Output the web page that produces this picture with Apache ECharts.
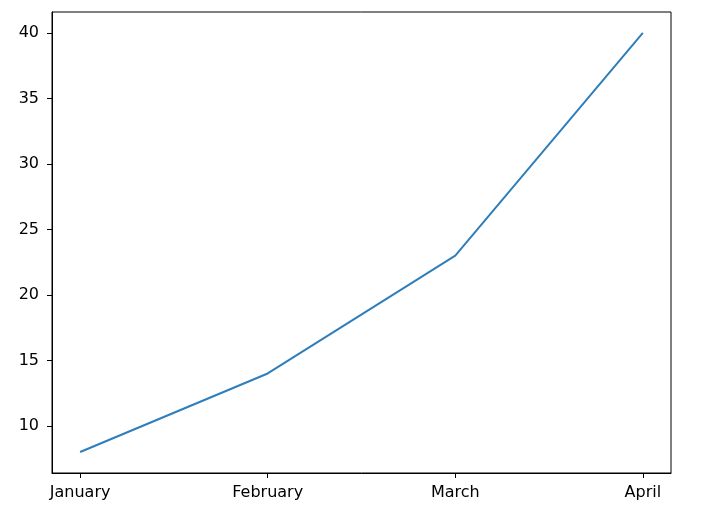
<!DOCTYPE html>
<html>
<head>
<meta charset="utf-8">
<script src="https://cdn.jsdelivr.net/npm/echarts@6/dist/echarts.min.js"></script>
<style>
  html, body { margin: 0; padding: 0; background: #fff; }
  #chart { width: 701px; height: 514px; }
</style>
</head>
<body>
<div id="chart"></div>
<script>
  // data
  var months = ["January", "February", "March", "April"];
  var values = [8, 14, 23, 40];
  var yTicks = [10, 15, 20, 25, 30, 35, 40];

  var points = [];
  for (var i = 0; i < months.length; i++) {
    points.push([i, values[i]]);
  }
  var xTicks = months.map(function (m, i) { return i; });

  var chart = echarts.init(document.getElementById("chart"), null, { renderer: "canvas" });
  var axisLine = { show: true, onZero: false, lineStyle: { color: "#000", width: 1 } };
  var font = { color: "#000", fontSize: 16, fontFamily: "DejaVu Sans" };
  var option = {
    animation: false,
    grid: { left: 52, right: 30, top: 12, bottom: 41, show: true, borderColor: "#000", borderWidth: 1 },
    xAxis: {
      type: "value",
      min: -0.15,
      max: 3.15,
      axisLine: axisLine,
      splitLine: { show: false },
      axisTick: { show: true, length: 5, customValues: xTicks, lineStyle: { color: "#000", width: 1 } },
      axisLabel: Object.assign({
        margin: 12,
        customValues: xTicks,
        formatter: function (v) { return months[Math.round(v)]; }
      }, font)
    },
    yAxis: {
      type: "value",
      min: 6.4,
      max: 41.6,
      axisLine: axisLine,
      splitLine: { show: false },
      axisTick: { show: true, length: 5, customValues: yTicks, lineStyle: { color: "#000", width: 1 } },
      axisLabel: Object.assign({ margin: 13, customValues: yTicks }, font)
    },
    series: [{
      type: "line",
      data: points,
      showSymbol: false,
      lineStyle: { color: "#2f7ebc", width: 2 },
      clip: false
    }]
  };
  chart.setOption(option);
</script>
</body>
</html>
